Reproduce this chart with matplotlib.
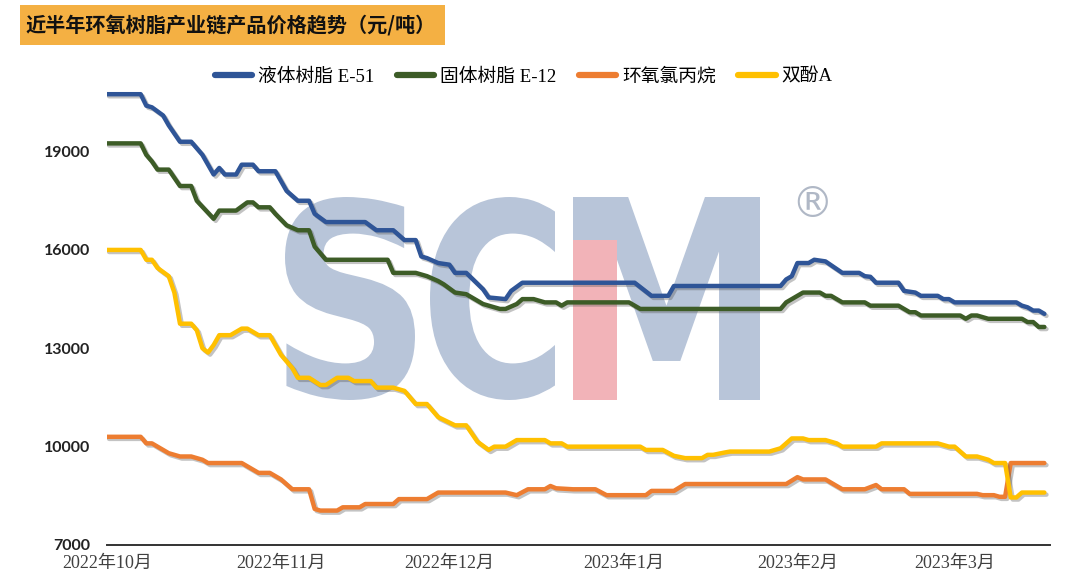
import pandas as pd
import matplotlib.pyplot as plt
import matplotlib.dates as mdates
import matplotlib.patheffects as pe
from matplotlib.textpath import TextPath
from matplotlib.patches import PathPatch, Rectangle
from matplotlib.font_manager import FontProperties
from matplotlib.transforms import Affine2D, IdentityTransform

plt.rcParams['font.family'] = ['Liberation Serif', 'Noto Sans CJK SC']

# ---- data ----
e51_dates = ['2022-10-01', '2022-10-07', '2022-10-08', '2022-10-09', '2022-10-11', '2022-10-12',
             '2022-10-14', '2022-10-16', '2022-10-18', '2022-10-20', '2022-10-21', '2022-10-22',
             '2022-10-24', '2022-10-25', '2022-10-27', '2022-10-28', '2022-10-31', '2022-11-02',
             '2022-11-04', '2022-11-06', '2022-11-07', '2022-11-09', '2022-11-16', '2022-11-18',
             '2022-11-21', '2022-11-23', '2022-11-25', '2022-11-26', '2022-11-27', '2022-11-29',
             '2022-12-01', '2022-12-02', '2022-12-04', '2022-12-07', '2022-12-08', '2022-12-11',
             '2022-12-12', '2022-12-14', '2023-01-03', '2023-01-06', '2023-01-09', '2023-01-10',
             '2023-01-29', '2023-01-30', '2023-01-31', '2023-02-01', '2023-02-03', '2023-02-04',
             '2023-02-06', '2023-02-09', '2023-02-12', '2023-02-13', '2023-02-14', '2023-02-15',
             '2023-02-19', '2023-02-20', '2023-02-22', '2023-02-23', '2023-02-26', '2023-02-27',
             '2023-02-28', '2023-03-01', '2023-03-12', '2023-03-13', '2023-03-14', '2023-03-15',
             '2023-03-16', '2023-03-17']
e51_price = [20750, 20750, 20400, 20350, 20100, 19800,
             19300, 19300, 18900, 18300, 18500, 18300,
             18300, 18600, 18600, 18400, 18400, 17800,
             17500, 17500, 17100, 16850, 16850, 16600,
             16600, 16300, 16300, 15800, 15750, 15600,
             15550, 15300, 15300, 14800, 14550, 14500,
             14750, 15000, 15000, 14600, 14600, 14900,
             14900, 15100, 15200, 15600, 15600, 15700,
             15650, 15300, 15300, 15200, 15180, 15000,
             15000, 14750, 14700, 14600, 14600, 14500,
             14500, 14400, 14400, 14300, 14250, 14150,
             14150, 14050]

e12_dates = ['2022-10-01', '2022-10-07', '2022-10-08', '2022-10-09', '2022-10-10', '2022-10-12',
             '2022-10-14', '2022-10-16', '2022-10-17', '2022-10-20', '2022-10-21', '2022-10-24',
             '2022-10-26', '2022-10-27', '2022-10-28', '2022-10-30', '2022-10-31', '2022-11-02',
             '2022-11-04', '2022-11-06', '2022-11-07', '2022-11-09', '2022-11-20', '2022-11-21',
             '2022-11-25', '2022-11-27', '2022-11-29', '2022-11-30', '2022-12-02', '2022-12-04',
             '2022-12-07', '2022-12-10', '2022-12-11', '2022-12-13', '2022-12-14', '2022-12-16',
             '2022-12-18', '2022-12-20', '2022-12-21', '2022-12-22', '2023-01-02', '2023-01-04',
             '2023-01-29', '2023-01-30', '2023-02-02', '2023-02-05', '2023-02-06', '2023-02-07',
             '2023-02-09', '2023-02-13', '2023-02-14', '2023-02-19', '2023-02-21', '2023-02-22',
             '2023-02-23', '2023-03-02', '2023-03-03', '2023-03-04', '2023-03-05', '2023-03-07',
             '2023-03-13', '2023-03-14', '2023-03-15', '2023-03-16', '2023-03-17']
e12_price = [19250, 19250, 18900, 18700, 18450, 18450,
             17950, 17950, 17500, 16950, 17200, 17200,
             17450, 17450, 17300, 17300, 17100, 16750,
             16600, 16600, 16100, 15700, 15700, 15300,
             15300, 15200, 15050, 14950, 14700, 14650,
             14350, 14200, 14200, 14350, 14500, 14500,
             14400, 14400, 14300, 14400, 14400, 14200,
             14200, 14400, 14700, 14700, 14600, 14600,
             14400, 14400, 14300, 14300, 14100, 14100,
             14000, 14000, 13900, 14000, 14000, 13900,
             13900, 13800, 13800, 13650, 13650]

ech_dates = ['2022-10-01', '2022-10-07', '2022-10-08', '2022-10-09', '2022-10-11', '2022-10-12',
             '2022-10-14', '2022-10-16', '2022-10-18', '2022-10-19', '2022-10-25', '2022-10-27',
             '2022-10-28', '2022-10-30', '2022-11-01', '2022-11-03', '2022-11-06', '2022-11-07',
             '2022-11-08', '2022-11-11', '2022-11-12', '2022-11-15', '2022-11-16', '2022-11-21',
             '2022-11-22', '2022-11-27', '2022-11-29', '2022-12-11', '2022-12-13', '2022-12-15',
             '2022-12-18', '2022-12-19', '2022-12-20', '2022-12-23', '2022-12-27', '2022-12-29',
             '2023-01-05', '2023-01-06', '2023-01-10', '2023-01-12', '2023-01-30', '2023-02-01',
             '2023-02-02', '2023-02-06', '2023-02-09', '2023-02-13', '2023-02-15', '2023-02-16',
             '2023-02-20', '2023-02-21', '2023-03-05', '2023-03-06', '2023-03-08', '2023-03-09',
             '2023-03-10', '2023-03-11', '2023-03-17']
ech_price = [10300, 10300, 10100, 10100, 9900, 9800,
             9700, 9700, 9600, 9500, 9500, 9300,
             9200, 9200, 9000, 8700, 8700, 8100,
             8050, 8050, 8150, 8150, 8250, 8250,
             8400, 8400, 8600, 8600, 8520, 8700,
             8700, 8800, 8730, 8700, 8700, 8520,
             8520, 8650, 8650, 8860, 8860, 9070,
             9000, 9000, 8700, 8700, 8830, 8700,
             8700, 8560, 8560, 8520, 8520, 8470,
             8470, 9500, 9500]

bpa_dates = ['2022-10-01', '2022-10-07', '2022-10-08', '2022-10-09', '2022-10-10', '2022-10-12',
             '2022-10-13', '2022-10-14', '2022-10-16', '2022-10-17', '2022-10-18', '2022-10-19',
             '2022-10-20', '2022-10-21', '2022-10-23', '2022-10-25', '2022-10-26', '2022-10-28',
             '2022-10-30', '2022-11-01', '2022-11-03', '2022-11-04', '2022-11-06', '2022-11-08',
             '2022-11-09', '2022-11-11', '2022-11-13', '2022-11-14', '2022-11-17', '2022-11-18',
             '2022-11-21', '2022-11-23', '2022-11-24', '2022-11-25', '2022-11-27', '2022-11-29',
             '2022-12-02', '2022-12-04', '2022-12-06', '2022-12-08', '2022-12-09', '2022-12-11',
             '2022-12-13', '2022-12-18', '2022-12-19', '2022-12-21', '2022-12-22', '2023-01-04',
             '2023-01-05', '2023-01-08', '2023-01-10', '2023-01-12', '2023-01-15', '2023-01-16',
             '2023-01-17', '2023-01-19', '2023-01-20', '2023-01-27', '2023-01-29', '2023-01-31',
             '2023-02-02', '2023-02-03', '2023-02-06', '2023-02-08', '2023-02-09', '2023-02-15',
             '2023-02-16', '2023-02-26', '2023-02-28', '2023-03-01', '2023-03-03', '2023-03-05',
             '2023-03-07', '2023-03-08', '2023-03-10', '2023-03-11', '2023-03-12', '2023-03-13',
             '2023-03-17']
bpa_price = [16000, 16000, 15700, 15700, 15450, 15200,
             14700, 13750, 13750, 13550, 13000, 12870,
             13100, 13400, 13400, 13600, 13600, 13400,
             13400, 12800, 12400, 12100, 12100, 11880,
             11880, 12100, 12100, 12000, 12000, 11800,
             11800, 11700, 11500, 11300, 11300, 10900,
             10650, 10650, 10150, 9900, 10000, 10000,
             10200, 10200, 10100, 10100, 10000, 10000,
             9900, 9900, 9720, 9650, 9650, 9750,
             9750, 9820, 9850, 9850, 9950, 10250,
             10250, 10200, 10200, 10100, 10000, 10000,
             10100, 10100, 10000, 10000, 9700, 9700,
             9600, 9500, 9500, 8450, 8450, 8600,
             8600]

series_names = ['液体树脂 E-51', '固体树脂 E-12', '环氧氯丙烷', '双酚A']
month_ticks = ['2022-10-01', '2022-11-01', '2022-12-01', '2023-01-01', '2023-02-01', '2023-03-01']
month_labels = ['2022年10月', '2022年11月', '2022年12月', '2023年1月', '2023年2月', '2023年3月']
y_ticks = [7000, 10000, 13000, 16000, 19000]

title = '近半年环氧树脂产业链产品价格趋势（元/吨）'

# ---- figure ----
W, H = 1073, 588
fig = plt.figure(figsize=(W / 100, H / 100), dpi=100)
ax = fig.add_axes([107 / W, 43 / H, 943 / W, 459 / H])
ax.patch.set_alpha(0)

# watermark logo (behind the lines), one letter per box in pixel coords
wm_font = FontProperties(family='DejaVu Sans', weight='bold')
for letter, (x0, x1) in zip('SCM', [(285, 415), (430, 555), (573, 760)]):
    tp = TextPath((0, 0), letter, size=100, prop=wm_font)
    bb = tp.get_extents()
    tr = Affine2D().translate(-bb.x0, -bb.y0).scale((x1 - x0) / bb.width, 203 / bb.height).translate(x0, 188)
    ax.add_artist(PathPatch(tr.transform_path(tp), facecolor='#B8C5D9', edgecolor='none',
                            transform=IdentityTransform(), zorder=0))
ax.add_artist(Rectangle((573, 188), 44, 160, facecolor='#F2B3B8', edgecolor='none',
                        transform=IdentityTransform(), zorder=0.5))
fig.text(812 / W, 1 - 205 / H, '®', fontsize=30, color='#B0B8C6', family='DejaVu Sans',
         ha='center', va='center', zorder=0)

colors = ['#2F5597', '#3D5C27', '#ED7D31', '#FFC000']
all_dates = [e51_dates, e12_dates, ech_dates, bpa_dates]
all_prices = [e51_price, e12_price, ech_price, bpa_price]
shadow = [pe.SimpleLineShadow(offset=(1.5, -1.5), shadow_color='#555555', alpha=0.35), pe.Normal()]

lines = []
for d, p, c, name in zip(all_dates, all_prices, colors, series_names):
    ln, = ax.plot(pd.to_datetime(d), p, color=c, lw=3.2, label=name, zorder=3,
                  solid_joinstyle='round', solid_capstyle='round', path_effects=shadow)
    lines.append(ln)

start = mdates.date2num(pd.Timestamp('2022-10-01'))
ax.set_xlim(start, start + 168)
ax.set_ylim(7000, 21000)

ax.set_xticks(pd.to_datetime(month_ticks))
ax.set_xticklabels(month_labels, fontsize=13, color='#404040')
ax.set_yticks(y_ticks)
ax.set_yticklabels([str(v) for v in y_ticks], family='Lato', weight='bold', fontsize=11.5, color='#222222')
ax.tick_params(axis='x', length=0, pad=7)
ax.tick_params(axis='y', length=0, pad=12)

for s in ['top', 'right', 'left']:
    ax.spines[s].set_visible(False)
ax.spines['bottom'].set_color('#333333')
ax.spines['bottom'].set_linewidth(1.4)

leg = fig.legend(handles=lines, loc='center', bbox_to_anchor=(0.488, 1 - 77 / H), ncol=4,
                 frameon=False, fontsize=13.5, handlelength=2.0, handletextpad=0.3,
                 columnspacing=1.2)
for h in leg.legend_handles:
    h.set_linewidth(4.5)
    h.set_path_effects([])

# title box
fig.patches.append(Rectangle((20 / W, 1 - 45 / H), 425 / W, 40 / H, facecolor='#F4B043',
                             edgecolor='none', transform=fig.transFigure, figure=fig))
fig.text(231 / W, 1 - 26 / H, title, fontsize=14.5, weight='bold', family='Noto Sans CJK SC',
         ha='center', va='center', color='#111111')

fig.savefig('out.png', dpi=100)
